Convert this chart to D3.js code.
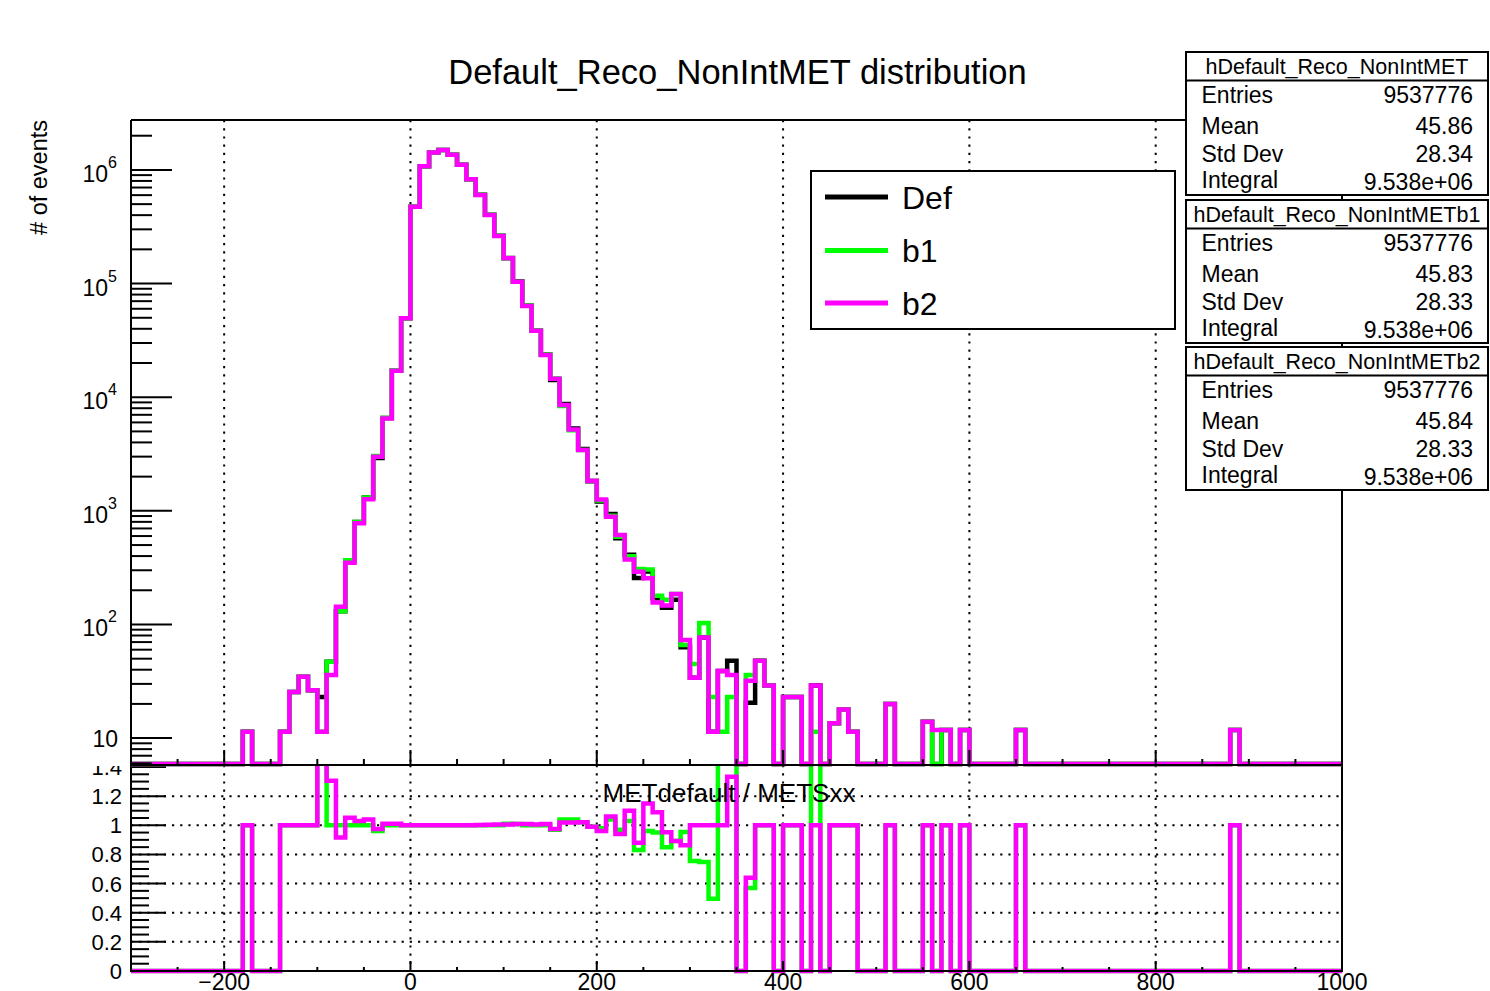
<!DOCTYPE html>
<html><head><meta charset="utf-8">
<script src="https://cdn.jsdelivr.net/npm/d3@7"></script>
<style>
body{margin:0;background:#fff}
svg{display:block;font-family:"Liberation Sans",Arial,Helvetica,sans-serif}
</style>
</head><body>
<svg id="c" width="1490" height="991"></svg>
<script>
// ---------------- data ----------------
const xMin = -300, xMax = 1000, binWidth = 10;
const binEdges = d3.range(xMin, xMax, binWidth); // lower edges of the 130 bins

// Def (black)
const defVals = [
 0,0,0,0,0,0,0,0,0,0,           // -300..-210
 0,0,11.4,0,0,0,11.4,25.5,34.7,26.4, // -200..-110
 23,47,131,367,799,1312,2915,6575,17270,49500, // -100..-10
 475000,1080000,1420000,1500000,1360000,1110000,828000,604200,403200,263300, // 0..90
 167800,105000,64100,38700,23700,14140,8700,5314,3500,1822, // 100..190
 1210,940,575,411,256,293,170,140,165,63, // 200..290
 34,77,11.4,39,48,0,20.5,48,29,0, // 300..390
 23,23,0,29,0,13.5,17.9,11.4,0,0, // 400..490
 0,20,0,0,0,13.9,0,11.8,0,11.8, // 500..590
 0,0,0,0,0,11.8,0,0,0,0, // 600..690
 0,0,0,0,0,0,0,0,0,0, // 700..790
 0,0,0,0,0,0,0,0,11.8,0, // 800..890
 0,0,0,0,0,0,0,0,0,0  // 900..990
];
// b1 (green)
const b1Vals = [
 0,0,0,0,0,0,0,0,0,0,
 0,0,11.4,0,0,0,11.4,25.5,34.7,26.4,
 11.4,47,131,367,799,1312,3036,6575,17270,49500,
 475000,1080000,1420000,1500000,1360000,1110000,828000,604200,403200,263300,
 166100,104000,64100,38700,23700,14580,8365,5110,3430,1840,
 1235,904,593,399,308,305,179,165,185,66,
 45,103,23,11.4,23,0,36,48,29,0,
 23,23,0,11.4,0,13.5,17.9,11.4,0,0,
 0,20,0,0,0,13.9,0,11.8,0,11.8,
 0,0,0,0,0,11.8,0,0,0,0,
 0,0,0,0,0,0,0,0,0,0,
 0,0,0,0,0,0,0,0,11.8,0,
 0,0,0,0,0,0,0,0,0,0
];
// b2 (magenta)
const b2Vals = [
 0,0,0,0,0,0,0,0,0,0,
 0,0,11.4,0,0,0,11.4,25.5,34.7,26.4,
 11.4,36,143,349,776,1262,2990,6510,17100,49500,
 475000,1080000,1420000,1500000,1360000,1110000,828000,603000,402000,262000,
 167000,104000,63500,38500,23500,14500,8530,5210,3430,1840,
 1260,887,612,374,291,255,156,147,185,73,
 34,77,11.4,39,36,0,32,48,29,0,
 23,23,0,29,0,13.5,17.9,11.4,0,0,
 0,20,0,0,0,13.9,11.8,11.8,0,11.8,
 0,0,0,0,0,11.8,0,0,0,0,
 0,0,0,0,0,0,0,0,0,0,
 0,0,0,0,0,0,0,0,11.8,0,
 0,0,0,0,0,0,0,0,0,0
];

const seriesNames = ["Def", "b1", "b2"];
const seriesColors = ["#000000", "#00ff00", "#ff00ff"];
const xTickValues = [-200, 0, 200, 400, 600, 800, 1000];
const xTickLabels = ["\u2212200", "0", "200", "400", "600", "800", "1000"];
const logMajorTicks = [10, 1e2, 1e3, 1e4, 1e5, 1e6];
const logTickExponents = ["", "2", "3", "4", "5", "6"];
const ratioTickValues = [0, 0.2, 0.4, 0.6, 0.8, 1, 1.2, 1.4];
const ratioTickLabels = ["0", "0.2", "0.4", "0.6", "0.8", "1", "1.2", "1.4"];
const statNames = ["hDefault_Reco_NonIntMET", "hDefault_Reco_NonIntMETb1", "hDefault_Reco_NonIntMETb2"];
const statEntries = ["9537776", "9537776", "9537776"];
const statMean = ["45.86", "45.83", "45.84"];
const statStdDev = ["28.34", "28.33", "28.33"];
const statIntegral = ["9.538e+06", "9.538e+06", "9.538e+06"];
const chartTitle = "Default_Reco_NonIntMET distribution";
const yTitle = "# of events";
const ratioTitle = "METdefault / METSxx";

// ---------------- layout ----------------
const L = 131, R = 1342, T = 120, MB = 765, RB = 971;
const svg = d3.select("#c");
const x = d3.scaleLinear().domain([xMin, xMax]).range([L, R]);
const yMinV = 5.8, yMaxV = 2.75e6;
const y = d3.scaleLog().domain([yMinV, yMaxV]).range([MB, T]);
const r = d3.scaleLinear().domain([0, 1.4]).range([RB, 767]);

const defs = svg.append("defs");
defs.append("clipPath").attr("id", "clipMain").append("rect")
  .attr("x", L).attr("y", T).attr("width", R - L).attr("height", MB - T + 3);
defs.append("clipPath").attr("id", "clipRatio").append("rect")
  .attr("x", L).attr("y", MB).attr("width", R - L).attr("height", RB - MB + 4);
defs.append("clipPath").attr("id", "clipRatioLab").append("rect")
  .attr("x", 0).attr("y", MB + 1).attr("width", L).attr("height", 300);

const dotted = {stroke: "#000", "stroke-width": 2, "stroke-dasharray": "2.2,6"};
function applyAttrs(sel, o){ for (const k in o) sel.attr(k, o[k]); return sel; }

// ---------- ratio pad ----------
const gR = svg.append("g");
xTickValues.filter(v => v > xMin && v < xMax).forEach(v => {
  applyAttrs(gR.append("line").attr("x1", x(v)).attr("x2", x(v)).attr("y1", MB).attr("y2", RB), dotted);
});
ratioTickValues.filter(v => v > 0 && v < 1.4).forEach(v => {
  applyAttrs(gR.append("line").attr("x1", L).attr("x2", R).attr("y1", r(v)).attr("y2", r(v)), dotted);
});

function ratioOf(num, den){ return num.map((v, i) => (den[i] > 0 && v > 0) ? v / den[i] : 0); }
const ratioB1 = ratioOf(defVals, b1Vals);
const ratioB2 = ratioOf(defVals, b2Vals);

const stepLine = (sx, sy) => d3.line().x(d => sx(d[0])).y(d => sy(d[1])).curve(d3.curveStepAfter);
function stepPoints(vals){
  const pts = vals.map((v, i) => [binEdges[i], v]);
  pts.push([xMax, vals[vals.length - 1]]);
  return pts;
}
const gRL = gR.append("g").attr("clip-path", "url(#clipRatio)");
[[ratioB1, seriesColors[1]], [ratioB2, seriesColors[2]]].forEach(([vals, col]) => {
  gRL.append("path").attr("d", stepLine(x, v => r(Math.min(v, 3)))(stepPoints(vals)))
    .attr("fill", "none").attr("stroke", col).attr("stroke-width", 4.5).attr("stroke-linejoin", "miter");
});

gR.append("rect").attr("x", L).attr("y", MB).attr("width", R - L).attr("height", RB - MB)
  .attr("fill", "none").attr("stroke", "#000").attr("stroke-width", 2);
const rMinor = d3.range(0, 1.4001, 0.05);
rMinor.forEach(v => {
  const isMaj = Math.abs(v * 5 - Math.round(v * 5)) < 1e-6;
  gR.append("line").attr("x1", L).attr("x2", L + (isMaj ? 35 : 18)).attr("y1", r(v)).attr("y2", r(v))
    .attr("stroke", "#000").attr("stroke-width", 2);
});
gR.append("g").attr("clip-path", "url(#clipRatioLab)").selectAll("text").data(ratioTickValues).join("text")
  .attr("x", 122).attr("y", v => r(v) + 8).attr("text-anchor", "end").attr("font-size", 22)
  .text((v, i) => ratioTickLabels[i]);
d3.range(-250, 1000, 50).forEach(v => {
  const isMaj = v % 200 === 0;
  gR.append("line").attr("x1", x(v)).attr("x2", x(v)).attr("y1", RB).attr("y2", RB - (isMaj ? 10 : 4))
    .attr("stroke", "#000").attr("stroke-width", 2);
});
gR.selectAll("text.xl").data(xTickValues).join("text").attr("class", "xl")
  .attr("x", v => x(v)).attr("y", 990).attr("text-anchor", "middle").attr("font-size", 23)
  .text((v, i) => xTickLabels[i]);
gR.append("text").attr("x", 729).attr("y", 802).attr("text-anchor", "middle").attr("font-size", 26)
  .text(ratioTitle);

// ---------- main pad ----------
const gM = svg.append("g");
xTickValues.filter(v => v > xMin && v < xMax).forEach(v => {
  applyAttrs(gM.append("line").attr("x1", x(v)).attr("x2", x(v)).attr("y1", T).attr("y2", MB), dotted);
});
const gML = gM.append("g").attr("clip-path", "url(#clipMain)");
[[defVals, seriesColors[0]], [b1Vals, seriesColors[1]], [b2Vals, seriesColors[2]]].forEach(([vals, col]) => {
  gML.append("path").attr("d", stepLine(x, v => y(Math.max(v, yMinV)) - (v > 0 ? 0 : 1))(stepPoints(vals)))
    .attr("fill", "none").attr("stroke", col).attr("stroke-width", 4.5).attr("stroke-linejoin", "miter");
});
gM.append("line").attr("x1", L).attr("x2", R).attr("y1", T).attr("y2", T).attr("stroke", "#000").attr("stroke-width", 2);
gM.append("line").attr("x1", L).attr("x2", L).attr("y1", T).attr("y2", MB).attr("stroke", "#000").attr("stroke-width", 2);
gM.append("line").attr("x1", R).attr("x2", R).attr("y1", T).attr("y2", MB).attr("stroke", "#000").attr("stroke-width", 2);
gM.append("line").attr("x1", L).attr("x2", R).attr("y1", MB).attr("y2", MB).attr("stroke", "#000").attr("stroke-width", 2);
const logTicks = [];
for (let e = 0; e <= 6; e++) for (let m = 1; m <= 9; m++) {
  const v = m * Math.pow(10, e);
  if (v >= yMinV && v <= yMaxV) logTicks.push([v, m === 1]);
}
logTicks.forEach(([v, maj]) => {
  gM.append("line").attr("x1", L).attr("x2", L + (maj ? 41 : 21)).attr("y1", y(v)).attr("y2", y(v))
    .attr("stroke", "#000").attr("stroke-width", 2);
});
logMajorTicks.forEach((v, i) => {
  const t = gM.append("text").attr("x", 117).attr("text-anchor", "end").attr("font-size", 23);
  if (logTickExponents[i] === "") {
    t.attr("x", 118).attr("y", y(v) + 9).text("10");
  } else {
    t.attr("y", y(v) + 12).text("10");
    t.append("tspan").attr("dy", -14).attr("font-size", 16).text(logTickExponents[i]);
  }
});
d3.range(-250, 1000, 50).forEach(v => {
  const isMaj = v % 200 === 0;
  gM.append("line").attr("x1", x(v)).attr("x2", x(v)).attr("y1", MB).attr("y2", MB - (isMaj ? 15 : 6))
    .attr("stroke", "#000").attr("stroke-width", 2);
});
gM.append("text").attr("transform", "translate(47,120) rotate(-90)").attr("text-anchor", "end")
  .attr("font-size", 23.5).text(yTitle);
svg.append("text").attr("x", 737.5).attr("y", 84).attr("text-anchor", "middle").attr("font-size", 34.5)
  .text(chartTitle);

// ---------- legend ----------
const gLeg = svg.append("g");
gLeg.append("rect").attr("x", 811).attr("y", 171).attr("width", 364).attr("height", 158)
  .attr("fill", "#fff").attr("stroke", "#000").attr("stroke-width", 2);
const legY = [197, 250.5, 303];
seriesNames.forEach((n, i) => {
  gLeg.append("line").attr("x1", 825).attr("x2", 888).attr("y1", legY[i]).attr("y2", legY[i])
    .attr("stroke", seriesColors[i]).attr("stroke-width", 5);
  gLeg.append("text").attr("x", 902).attr("y", legY[i] + 11.5).attr("font-size", 32).text(n);
});

// ---------- stats boxes ----------
const boxTop = [52, 200, 347], boxH = 143;
statNames.forEach((name, k) => {
  const g = svg.append("g").attr("transform", `translate(0,${boxTop[k]})`);
  g.append("rect").attr("x", 1186).attr("y", 0).attr("width", 302).attr("height", boxH)
    .attr("fill", "#fff").attr("stroke", "#000").attr("stroke-width", 2);
  g.append("line").attr("x1", 1186).attr("x2", 1488).attr("y1", 28.5).attr("y2", 28.5)
    .attr("stroke", "#000").attr("stroke-width", 2);
  g.append("text").attr("x", 1337).attr("y", 21.5).attr("text-anchor", "middle").attr("font-size", 21.5).text(name);
  const rows = [["Entries", statEntries[k], 51, 51], ["Mean", statMean[k], 82, 82],
                ["Std Dev", statStdDev[k], 110, 110], ["Integral", statIntegral[k], 135.5, 138]];
  rows.forEach(([lab, val, yl, yv]) => {
    g.append("text").attr("x", 1201.5).attr("y", yl).attr("font-size", 23).text(lab);
    g.append("text").attr("x", 1473).attr("y", yv).attr("text-anchor", "end").attr("font-size", 23).text(val);
  });
});
</script>
</body></html>
